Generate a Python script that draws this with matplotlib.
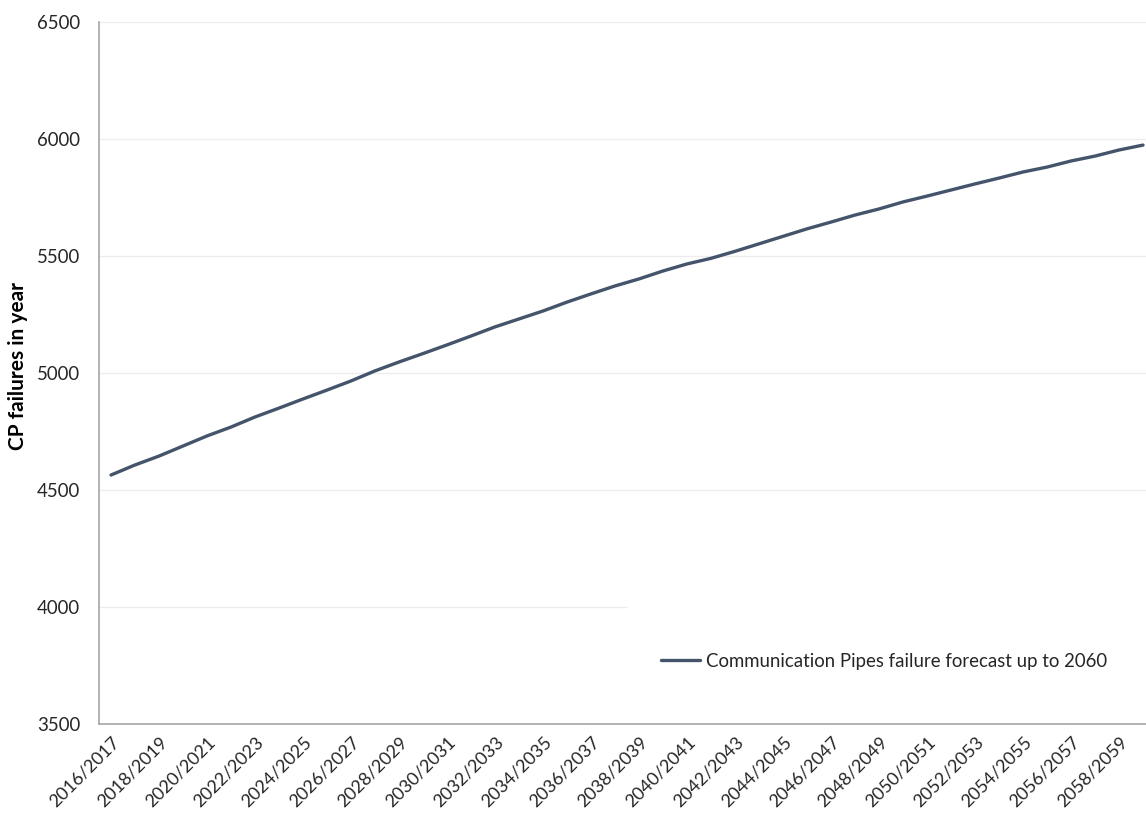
import matplotlib
matplotlib.use("Agg")
import matplotlib.pyplot as plt
from matplotlib.patches import Rectangle

# Financial years 2016/2017 .. 2059/2060
years = [f"{y}/{y + 1}" for y in range(2016, 2060)]
failures = [
    4564, 4607, 4645, 4688, 4731, 4769, 4812, 4850, 4889, 4927,
    4966, 5009, 5047, 5083, 5120, 5158, 5197, 5231, 5265, 5303,
    5338, 5372, 5402, 5436, 5466, 5490, 5520, 5552, 5584, 5616,
    5645, 5675, 5701, 5731, 5756, 5782, 5808, 5833, 5859, 5880,
    5906, 5927, 5953, 5974,
]
series_name = "Communication Pipes failure forecast up to 2060"
y_ticks = [3500, 4000, 4500, 5000, 5500, 6000, 6500]

LINE_COLOR = "#44546A"
TEXT_COLOR = "#262626"
FONT = "Lato"
FS = 13.4

W, H = 1146, 814
fig = plt.figure(figsize=(W / 100, H / 100), dpi=100)
ax = fig.add_axes([99 / W, (H - 724) / H, (1155 - 99) / W, (724 - 22) / H])

x = list(range(len(years)))
ax.plot(x, failures, color=LINE_COLOR, lw=2.4, zorder=3,
        solid_capstyle="round", label=series_name)

ax.set_xlim(-0.5, len(years) - 0.5)
ax.set_ylim(3500, 6500)
ax.set_yticks(y_ticks)
ax.set_yticklabels([str(v) for v in y_ticks], fontsize=FS, family=FONT,
                   color=TEXT_COLOR)
ax.set_xticks(x[::2])
ax.set_xticklabels(years[::2], rotation=45, ha="right", va="top",
                   rotation_mode="anchor", fontsize=13, family=FONT,
                   color=TEXT_COLOR)
ax.tick_params(axis="y", length=0, pad=13.5)
ax.tick_params(axis="x", length=0, pad=7)

ax.grid(axis="y", color="#EDEDED", lw=1.0, zorder=0)
ax.set_axisbelow(True)
for side in ("top", "right"):
    ax.spines[side].set_visible(False)
for side in ("left", "bottom"):
    ax.spines[side].set_color("#A6A6A6")
    ax.spines[side].set_linewidth(1.2)

# white legend area sitting over the lower-right gridlines
ax.add_patch(Rectangle((0.501, 0.02), 0.499, 0.22, transform=ax.transAxes,
                       facecolor="white", edgecolor="none", zorder=1.5))

ax.set_ylabel("CP failures in year", fontsize=15, family=FONT,
              fontweight="bold", color="black", labelpad=0)
ax.yaxis.set_label_coords(-71 / 1056, 0.51)

fig.legend(loc="center left", bbox_to_anchor=(661 / W, (H - 661) / H),
           frameon=False, borderpad=0, borderaxespad=0, handlelength=2.1,
           handletextpad=0.33, prop={"family": FONT, "size": FS})
for t in fig.legends[0].get_texts():
    t.set_color(TEXT_COLOR)

fig.savefig("out.png", dpi=100, facecolor="white")
